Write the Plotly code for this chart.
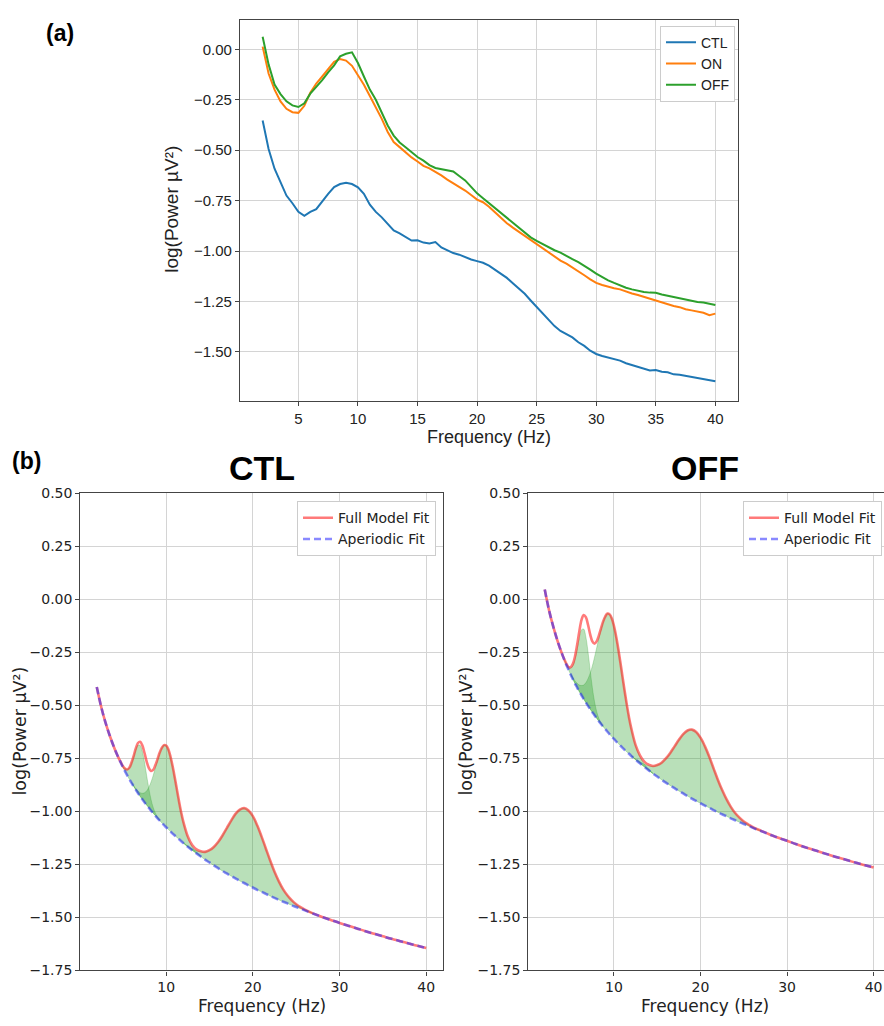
import plotly.graph_objects as go

# ---------------- (a) spectra ----------------
FREQ = [2.0 + 0.5 * i for i in range(77)]
CTL = [-0.353, -0.494, -0.592, -0.657, -0.725, -0.763, -0.805, -0.825, -0.806, -0.792,
       -0.752, -0.717, -0.683, -0.668, -0.662, -0.668, -0.684, -0.716, -0.770, -0.806,
       -0.833, -0.866, -0.898, -0.912, -0.930, -0.948, -0.947, -0.958, -0.962, -0.955,
       -0.982, -0.997, -1.010, -1.018, -1.030, -1.042, -1.050, -1.058, -1.072, -1.092,
       -1.115, -1.133, -1.160, -1.185, -1.212, -1.245, -1.278, -1.310, -1.340, -1.372,
       -1.396, -1.412, -1.428, -1.452, -1.470, -1.494, -1.510, -1.520, -1.527, -1.537,
       -1.543, -1.556, -1.565, -1.574, -1.583, -1.592, -1.590, -1.598, -1.601, -1.611,
       -1.613, -1.618, -1.624, -1.628, -1.633, -1.640, -1.645]
ON = [0.013, -0.120, -0.200, -0.258, -0.295, -0.312, -0.315, -0.280, -0.215, -0.170,
      -0.135, -0.098, -0.062, -0.048, -0.056, -0.082, -0.126, -0.176, -0.232, -0.285,
      -0.345, -0.410, -0.460, -0.485, -0.510, -0.536, -0.556, -0.578, -0.590, -0.606,
      -0.625, -0.646, -0.663, -0.680, -0.700, -0.722, -0.745, -0.758, -0.780, -0.808,
      -0.836, -0.862, -0.884, -0.904, -0.925, -0.948, -0.966, -0.986, -1.006, -1.028,
      -1.047, -1.062, -1.080, -1.100, -1.120, -1.140, -1.158, -1.168, -1.177, -1.184,
      -1.190, -1.202, -1.210, -1.218, -1.227, -1.238, -1.247, -1.254, -1.262, -1.272,
      -1.278, -1.288, -1.294, -1.300, -1.306, -1.318, -1.310]
OFF = [0.062, -0.075, -0.175, -0.222, -0.258, -0.278, -0.286, -0.268, -0.220, -0.187,
       -0.153, -0.114, -0.080, -0.035, -0.022, -0.015, -0.068, -0.135, -0.200, -0.250,
       -0.314, -0.378, -0.428, -0.462, -0.486, -0.510, -0.534, -0.552, -0.574, -0.588,
       -0.594, -0.598, -0.606, -0.628, -0.650, -0.682, -0.714, -0.738, -0.762, -0.788,
       -0.812, -0.838, -0.860, -0.886, -0.908, -0.932, -0.950, -0.966, -0.980, -0.996,
       -1.008, -1.022, -1.040, -1.055, -1.072, -1.092, -1.112, -1.130, -1.145, -1.158,
       -1.170, -1.182, -1.190, -1.198, -1.203, -1.206, -1.207, -1.215, -1.223, -1.228,
       -1.234, -1.241, -1.247, -1.252, -1.255, -1.262, -1.267]
SERIES_NAMES = ["CTL", "ON", "OFF"]
SERIES_COLORS = ["#1f77b4", "#ff7f0e", "#2ca02c"]

# ---------------- (b) model fits ----------------
FIT_FREQ = ([2.0, 2.5, 3.0, 3.5] + [4.0 + 0.25 * i for i in range(33)]
            + [12.5 + 0.5 * i for i in range(28)] + [27.0 + i for i in range(14)])
AP_CTL = [-0.414, -0.506, -0.581, -0.644,
          -0.699, -0.724, -0.747, -0.769, -0.791, -0.811, -0.830, -0.848, -0.865, -0.882,
          -0.898, -0.914, -0.929, -0.943, -0.957, -0.970, -0.983, -0.996, -1.008, -1.020,
          -1.032, -1.043, -1.054, -1.065, -1.075, -1.085, -1.095, -1.105, -1.114, -1.123,
          -1.132, -1.141, -1.150,
          -1.167, -1.183, -1.198, -1.213, -1.228, -1.241, -1.255, -1.268, -1.281, -1.293,
          -1.305, -1.316, -1.328, -1.338, -1.349, -1.359, -1.370, -1.379, -1.389, -1.399,
          -1.408, -1.417, -1.426, -1.434, -1.443, -1.451, -1.459, -1.467,
          -1.483, -1.498, -1.512, -1.526, -1.539, -1.552, -1.565, -1.577, -1.589, -1.601,
          -1.612, -1.623, -1.634, -1.644]
AP_OFF = [0.045, -0.053, -0.132, -0.200,
          -0.258, -0.285, -0.310, -0.333, -0.356, -0.377, -0.398, -0.417, -0.436, -0.453,
          -0.471, -0.487, -0.503, -0.518, -0.533, -0.547, -0.561, -0.575, -0.588, -0.601,
          -0.613, -0.625, -0.637, -0.648, -0.659, -0.670, -0.680, -0.691, -0.701, -0.711,
          -0.720, -0.729, -0.739,
          -0.757, -0.774, -0.790, -0.806, -0.822, -0.836, -0.851, -0.865, -0.878, -0.891,
          -0.904, -0.916, -0.928, -0.940, -0.951, -0.962, -0.973, -0.983, -0.994, -1.004,
          -1.014, -1.023, -1.033, -1.042, -1.051, -1.060, -1.068, -1.077,
          -1.093, -1.109, -1.125, -1.139, -1.154, -1.168, -1.181, -1.194, -1.207, -1.219,
          -1.231, -1.243, -1.254, -1.265]

# peak heights above the aperiodic fit
P1_CTL_F = [4.75 + 0.25 * i for i in range(19)]
P1_CTL_H = [0.002, 0.005, 0.0125, 0.027, 0.053, 0.092, 0.139, 0.189, 0.226, 0.240,
            0.226, 0.189, 0.139, 0.092, 0.053, 0.027, 0.0125, 0.005, 0.002]
P2_CTL_F = [6.0 + 0.25 * i for i in range(25)] + [12.5, 13.0, 13.5, 14.0]
P2_CTL_H = [0.0015, 0.003, 0.0055, 0.0098, 0.017, 0.028, 0.044, 0.066, 0.096, 0.133,
            0.176, 0.224, 0.272, 0.317, 0.353, 0.377, 0.385, 0.377, 0.353, 0.317,
            0.272, 0.224, 0.176, 0.133, 0.096, 0.044, 0.017, 0.0055, 0.0015]
P3_F = [12.0 + 0.5 * i for i in range(29)] + [27.0]
P3_CTL_H = [0.002, 0.004, 0.007, 0.013, 0.023, 0.037, 0.058, 0.087, 0.123, 0.167,
            0.214, 0.261, 0.304, 0.336, 0.353, 0.353, 0.336, 0.304, 0.261, 0.214,
            0.167, 0.123, 0.087, 0.058, 0.037, 0.023, 0.013, 0.007, 0.004, 0.001]
P1_OFF_F = [4.25 + 0.25 * i for i in range(19)]
P1_OFF_H = [0.002, 0.005, 0.013, 0.031, 0.064, 0.116, 0.183, 0.254, 0.309, 0.330,
            0.309, 0.254, 0.183, 0.116, 0.064, 0.031, 0.013, 0.005, 0.002]
P2_OFF_F = [5.0 + 0.25 * i for i in range(29)] + [12.5, 13.0, 13.5, 14.0, 14.5]
P2_OFF_H = [0.0046, 0.0077, 0.0125, 0.020, 0.031, 0.046, 0.066, 0.093, 0.128, 0.169,
            0.218, 0.273, 0.331, 0.390, 0.445, 0.494, 0.532, 0.557, 0.565, 0.557,
            0.532, 0.494, 0.445, 0.390, 0.331, 0.273, 0.218, 0.169, 0.128,
            0.066, 0.031, 0.0125, 0.0046, 0.0015]
P3_OFF_H = [0.002, 0.003, 0.007, 0.012, 0.021, 0.034, 0.054, 0.080, 0.114, 0.153,
            0.197, 0.241, 0.280, 0.309, 0.325, 0.325, 0.309, 0.280, 0.241, 0.197,
            0.153, 0.114, 0.080, 0.054, 0.034, 0.021, 0.012, 0.007, 0.003, 0.001]

W, H = 884, 1026
fig = go.Figure()

for name, ys, col in zip(SERIES_NAMES, [CTL, ON, OFF], SERIES_COLORS):
    fig.add_trace(go.Scatter(x=FREQ, y=ys, mode="lines", name=name,
                             line=dict(color=col, width=2), legend="legend",
                             xaxis="x", yaxis="y"))

def add_fit(ap, peaks, xa, ya, leg):
    key = lambda f: round(f, 2)
    ap_map = {key(f): v for f, v in zip(FIT_FREQ, ap)}
    full = []
    for f, v in zip(FIT_FREQ, ap):
        tot = v
        for pf, ph in peaks:
            d = dict(zip([key(q) for q in pf], ph))
            tot += d.get(key(f), 0.0)
        full.append(tot)
    for pf, ph in peaks:
        base = [ap_map[key(q)] for q in pf]
        top = [b + h for b, h in zip(base, ph)]
        fig.add_trace(go.Scatter(x=list(pf) + list(pf)[::-1], y=top + base[::-1],
                                 mode="lines", fill="toself",
                                 fillcolor="rgba(44,160,44,0.33)",
                                 line=dict(width=0.6, color="rgba(44,160,44,0.45)", shape="spline"),
                                 showlegend=False, hoverinfo="skip", xaxis=xa, yaxis=ya))
    fig.add_trace(go.Scatter(x=FIT_FREQ, y=full, mode="lines", name="Full Model Fit",
                             line=dict(color="rgba(255,40,40,0.62)", width=2.6, shape="spline"),
                             legend=leg, xaxis=xa, yaxis=ya))
    fig.add_trace(go.Scatter(x=FIT_FREQ, y=ap, mode="lines", name="Aperiodic Fit",
                             line=dict(color="rgba(40,40,255,0.55)", width=2.6, dash="7px,4px",
                                       shape="spline"),
                             legend=leg, xaxis=xa, yaxis=ya))

add_fit(AP_CTL, [(P1_CTL_F, P1_CTL_H), (P2_CTL_F, P2_CTL_H), (P3_F, P3_CTL_H)], "x2", "y2", "legend2")
add_fit(AP_OFF, [(P1_OFF_F, P1_OFF_H), (P2_OFF_F, P2_OFF_H), (P3_F, P3_OFF_H)], "x3", "y3", "legend3")

def px(x):
    return x / W

def py(y):
    return 1 - y / H

GRID = "#d4d4d4"
LINE = "#444444"
top_font = dict(family="Liberation Sans, Arial", size=15, color="#222222")
bot_font = dict(family="DejaVu Sans", size=14, color="#222222")

def xaxis(dom, rng, tv, font, anchor, mirror=True):
    return dict(domain=dom, range=rng, tickvals=tv, showgrid=True, gridcolor=GRID, gridwidth=1,
                showline=True, linecolor=LINE, linewidth=1.2, mirror=mirror, ticks="outside",
                ticklen=4, tickcolor=LINE, tickfont=font, zeroline=False, fixedrange=True,
                anchor=anchor)

def yaxis(dom, rng, tv, font, anchor, mirror=True):
    return dict(domain=dom, range=rng, tickvals=tv, tickformat=".2f", showgrid=True,
                gridcolor=GRID, gridwidth=1, showline=True, linecolor=LINE, linewidth=1.2,
                mirror=mirror, ticks="outside", ticklen=4, tickcolor=LINE, tickfont=font,
                zeroline=False, anchor=anchor, fixedrange=True)

top_y = [0.0, -0.25, -0.5, -0.75, -1.0, -1.25, -1.5]
bot_y = [0.5, 0.25, 0.0, -0.25, -0.5, -0.75, -1.0, -1.25, -1.5, -1.75]

fig.update_layout(
    width=W, height=H, margin=dict(l=0, r=0, t=0, b=0),
    paper_bgcolor="white", plot_bgcolor="white",
    xaxis=xaxis([px(240), px(738)], [0.1, 41.9], [5, 10, 15, 20, 25, 30, 35, 40], top_font, "y"),
    yaxis=yaxis([py(399), py(12)], [-1.742, 0.146], top_y, top_font, "x"),
    xaxis2=xaxis([px(80.3), px(442.7)], [0.1, 41.9], [10, 20, 30, 40], bot_font, "y2"),
    yaxis2=yaxis([py(977.7), py(492.7)], [-1.75, 0.5], bot_y, bot_font, "x2"),
    xaxis3=xaxis([px(528.3), px(884)], [0.1, 41.2], [10, 20, 30, 40], bot_font, "y3"),
    yaxis3=yaxis([py(977.7), py(492.7)], [-1.75, 0.5], bot_y, bot_font, "x3", mirror=False),
    legend=dict(x=px(735), y=py(18), xanchor="right", yanchor="top", bgcolor="white",
                bordercolor="#cccccc", borderwidth=1,
                font=dict(family="Liberation Sans, Arial", size=14, color="#222"),
                itemwidth=30, tracegroupgap=0),
    legend2=dict(x=px(436), y=py(501), xanchor="right", yanchor="top", bgcolor="white",
                 bordercolor="#cccccc", borderwidth=1,
                 font=dict(family="DejaVu Sans", size=14, color="#222"), itemwidth=30),
    legend3=dict(x=px(882), y=py(501), xanchor="right", yanchor="top", bgcolor="white",
                 bordercolor="#cccccc", borderwidth=1,
                 font=dict(family="DejaVu Sans", size=14, color="#222"), itemwidth=30),
    showlegend=True,
)

ann = []
def A(text, x, y, font, angle=0, xanchor="center"):
    ann.append(dict(text=text, x=px(x), y=py(y), xref="paper", yref="paper", showarrow=False,
                    xanchor=xanchor, yanchor="middle", textangle=angle, font=font))

bold = dict(family="Liberation Sans, Arial", size=23, color="black")
A("<b>(a)</b>", 44, 25, bold, xanchor="left")
A("<b>(b)</b>", 10, 460, bold, xanchor="left")
A("<b>CTL</b>", 261.5, 467, dict(family="Liberation Sans, Arial", size=34, color="black"))
A("<b>OFF</b>", 705, 467, dict(family="Liberation Sans, Arial", size=34, color="black"))
A("log(Power µV²)", 172, 205, dict(family="Liberation Sans, Arial", size=19, color="#222"), angle=-90)
A("Frequency (Hz)", 489, 436, dict(family="Liberation Sans, Arial", size=18, color="#222"))
A("log(Power µV²)", 20, 735, dict(family="DejaVu Sans", size=17.5, color="#222"), angle=-90)
A("log(Power µV²)", 466, 735, dict(family="DejaVu Sans", size=17.5, color="#222"), angle=-90)
A("Frequency (Hz)", 261.5, 1014, dict(family="DejaVu Sans", size=17, color="#222"))
A("Frequency (Hz)", 705, 1014, dict(family="DejaVu Sans", size=17, color="#222"))
fig.update_layout(annotations=ann)

fig.write_html("out.html", config=dict(displayModeBar=False),
               post_script="document.body.style.margin='0';document.body.style.overflow='hidden';")
